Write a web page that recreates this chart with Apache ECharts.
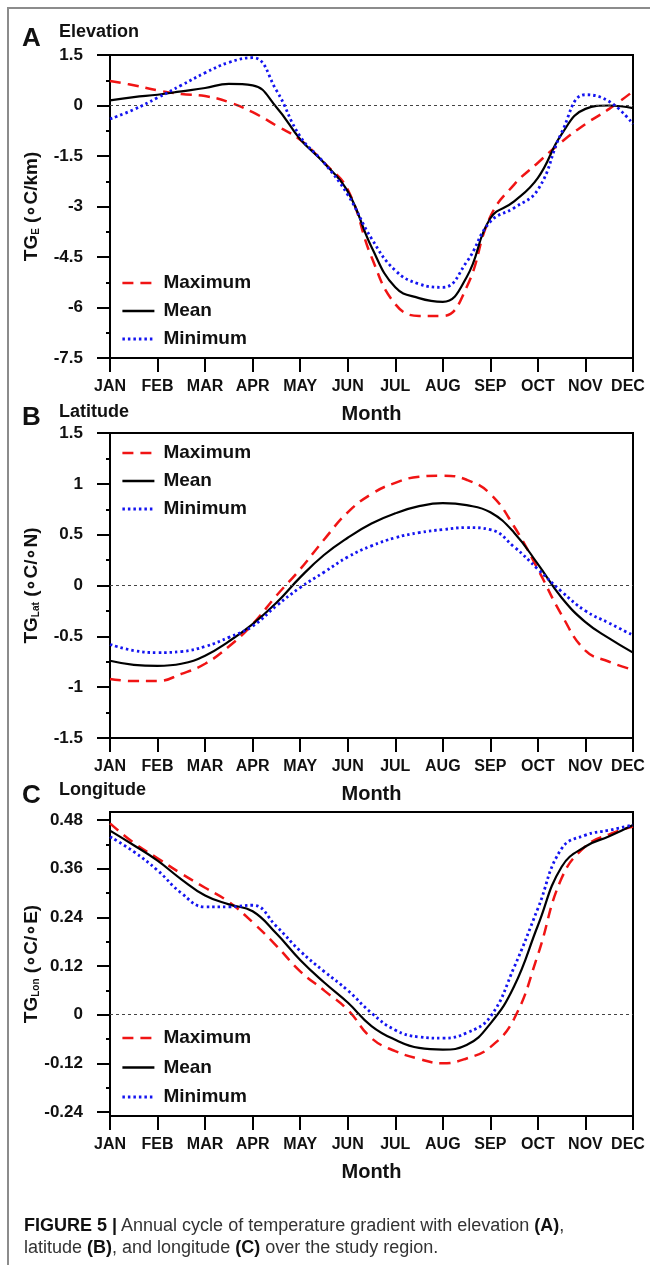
<!DOCTYPE html>
<html>
<head>
<meta charset="utf-8">
<script src="https://cdn.jsdelivr.net/npm/echarts@6/dist/echarts.min.js"></script>
<style>
  html, body { margin: 0; padding: 0; background: #fff; overflow: hidden; }
  #frame { position: absolute; left: 7px; top: 7px; width: 700px; height: 1300px;
    border-left: 2px solid #8c8c8c; border-top: 2px solid #8c8c8c; }
  #chart { position: absolute; left: 0; top: 0; width: 650px; height: 1265px; }
  #caption { position: absolute; left: 24px; top: 1214px; color: #333;
    font: 18px 'Liberation Sans', Arial, sans-serif; line-height: 22px; }
  #caption b { color: #111; }
</style>
</head>
<body>
<div id="frame"></div>
<div id="chart"></div>
<div id="caption"><b>FIGURE 5 |</b> Annual cycle of temperature gradient with elevation <b>(A)</b>,<br>latitude <b>(B)</b>, and longitude <b>(C)</b> over the study region.</div>
<script>
// month labels and sample positions (0 = JAN ... 11 = DEC)
const months = ['JAN', 'FEB', 'MAR', 'APR', 'MAY', 'JUN', 'JUL', 'AUG', 'SEP', 'OCT', 'NOV', 'DEC'];
const monthPos = [0, 0.5, 1, 1.5, 2, 2.5, 3, 3.5, 4, 4.5, 5, 5.5, 6, 6.5, 7, 7.5, 8, 8.5, 9, 9.5, 10, 10.5, 11];

// (A) elevation, degC/km
const elevMax = [0.73, 0.6, 0.45, 0.34, 0.28, 0.1, -0.2, -0.6, -1.02, -1.7, -2.5, -4.5, -5.9, -6.25, -6.25, -5.4, -3.3, -2.35, -1.7, -1.08, -0.55, -0.1, 0.42];
const elevMean = [0.15, 0.25, 0.32, 0.42, 0.52, 0.64, 0.6, -0.05, -1.0, -1.7, -2.55, -4.2, -5.4, -5.72, -5.83, -5.1, -3.35, -2.85, -2.15, -0.85, -0.1, 0.0, -0.08];
const elevMin = [-0.4, -0.12, 0.23, 0.6, 0.97, 1.28, 1.42, 0.45, -0.92, -1.7, -2.65, -3.95, -4.9, -5.3, -5.4, -4.65, -3.45, -3.04, -2.5, -0.8, 0.32, 0.12, -0.55];

// (B) latitude, degC/degN
const latMax = [-0.92, -0.94, -0.94, -0.87, -0.77, -0.6, -0.38, -0.1, 0.16, 0.45, 0.72, 0.9, 1.01, 1.07, 1.08, 1.04, 0.9, 0.58, 0.16, -0.29, -0.64, -0.75, -0.83];
const latMean = [-0.74, -0.78, -0.79, -0.77, -0.69, -0.55, -0.38, -0.17, 0.08, 0.3, 0.47, 0.61, 0.71, 0.78, 0.81, 0.79, 0.72, 0.52, 0.21, -0.12, -0.36, -0.52, -0.66];
const latMin = [-0.58, -0.64, -0.66, -0.65, -0.6, -0.51, -0.4, -0.2, -0.02, 0.13, 0.28, 0.39, 0.47, 0.52, 0.55, 0.57, 0.55, 0.38, 0.16, -0.06, -0.25, -0.37, -0.49];

// (C) longitude, degC/degE
const lonMax = [0.472, 0.424, 0.386, 0.348, 0.313, 0.278, 0.228, 0.17, 0.107, 0.06, 0.012, -0.058, -0.09, -0.109, -0.12, -0.108, -0.08, -0.01, 0.148, 0.337, 0.415, 0.445, 0.464];
const lonMean = [0.454, 0.418, 0.38, 0.334, 0.294, 0.272, 0.255, 0.2, 0.135, 0.08, 0.03, -0.028, -0.062, -0.082, -0.086, -0.075, -0.022, 0.07, 0.22, 0.365, 0.415, 0.44, 0.468];
const lonMin = [0.439, 0.402, 0.356, 0.3, 0.266, 0.266, 0.27, 0.218, 0.157, 0.107, 0.06, 0.004, -0.038, -0.055, -0.058, -0.045, -0.005, 0.117, 0.262, 0.41, 0.443, 0.455, 0.468];
const lonTicks = [-0.24, -0.12, 0, 0.12, 0.24, 0.36, 0.48];
const lonMinorTicks = [-0.18, -0.06, 0.06, 0.18, 0.3, 0.42];

const FONT = "'Liberation Sans', Arial, sans-serif";
const seriesNames = ['Maximum', 'Mean', 'Minimum'];
const lineStyles = {
  Maximum: {color: '#f01414', type: [11, 7], width: 2.5},
  Mean: {color: '#000', type: 'solid', width: 2.2},
  Minimum: {color: '#1414f0', type: [2.5, 3], width: 2.8}
};

const chart = echarts.init(document.getElementById('chart'));

const grids = [
  {left: 110, top: 55, width: 523, height: 303},
  {left: 110, top: 433, width: 523, height: 305},
  {left: 110, top: 812, width: 523, height: 304}
].map(g => Object.assign(g, {show: true, borderColor: '#000', borderWidth: 2}));

const xAxes = [0, 1, 2].map(i => ({
  type: 'value', gridIndex: i, min: 0, max: 11, interval: 1,
  axisLine: {onZero: false, lineStyle: {color: '#000', width: 2}},
  axisTick: {length: 14, lineStyle: {color: '#000', width: 2}},
  splitLine: {show: false},
  axisLabel: {
    margin: 21, color: '#111', fontSize: 16, fontWeight: 'bold', fontFamily: FONT,
    formatter: v => v === 11 ? '{d|DEC}' : months[v],
    rich: {d: {fontSize: 16, fontWeight: 'bold', fontFamily: FONT, color: '#111', padding: [0, 10, 0, 0]}}
  },
  name: 'Month', nameLocation: 'middle', nameGap: 46,
  nameTextStyle: {fontSize: 20, fontWeight: 'bold', fontFamily: FONT, color: '#111'}
}));

function yName(sub, unit) {
  return {
    name: '{b|TG}{s|' + sub + '}{b| (∘C/' + unit + ')}',
    nameLocation: 'middle', nameRotate: 90, nameGap: 69, nameMoveOverlap: false,
    nameTextStyle: {
      rich: {
        b: {fontSize: 19, fontWeight: 'bold', fontFamily: FONT, color: '#111'},
        s: {fontSize: 10, fontWeight: 'bold', fontFamily: FONT, color: '#111', verticalAlign: 'bottom', padding: [8, 0, 0, 0]}
      }
    }
  };
}

const yBase = {
  type: 'value',
  axisLine: {show: true, onZero: false, lineStyle: {color: '#000', width: 2}},
  axisTick: {show: true, length: 13, lineStyle: {color: '#000', width: 2}},
  splitLine: {show: false},
  axisLabel: {margin: 27, color: '#111', fontSize: 17, fontWeight: 'bold', fontFamily: FONT}
};

const yAxes = [
  Object.assign({}, yBase, yName('E', 'km'), {
    gridIndex: 0, min: -7.5, max: 1.5, interval: 1.5,
    minorTick: {show: true, splitNumber: 2, length: 4, lineStyle: {color: '#000', width: 2}}
  }),
  Object.assign({}, yBase, yName('Lat', '∘N'), {
    gridIndex: 1, min: -1.5, max: 1.5, interval: 0.5,
    minorTick: {show: true, splitNumber: 2, length: 4, lineStyle: {color: '#000', width: 2}}
  }),
  Object.assign({}, yBase, yName('Lon', '∘E'), {
    gridIndex: 2, min: -0.25, max: 0.5,
    axisTick: {show: true, length: 13, customValues: lonTicks, lineStyle: {color: '#000', width: 2}},
    axisLabel: Object.assign({}, yBase.axisLabel, {customValues: lonTicks})
  }),
  // minor ticks for panel C
  {
    type: 'value', gridIndex: 2, min: -0.25, max: 0.5, position: 'left',
    axisLine: {show: false},
    axisTick: {show: true, length: 4, customValues: lonMinorTicks, lineStyle: {color: '#000', width: 2}},
    axisLabel: {show: false}, splitLine: {show: false}
  }
];

function panelSeries(idx, arrays) {
  return seriesNames.map((name, k) => {
    const s = {
      name: name, type: 'line', xAxisIndex: idx, yAxisIndex: idx,
      data: monthPos.map((m, i) => [m, arrays[k][i]]),
      smooth: 0.45, symbol: 'none', showSymbol: false, z: 3 + k,
      lineStyle: lineStyles[name],
      itemStyle: {color: lineStyles[name].color}
    };
    if (name === 'Mean') {
      s.markLine = {
        silent: true, symbol: ['none', 'none'], label: {show: false},
        lineStyle: {color: '#444', type: [3, 3], width: 1},
        data: [{yAxis: 0}]
      };
    }
    return s;
  });
}

const legendTops = [268, 438, 1023];
const legends = legendTops.map((t, i) => ({
  orient: 'vertical', left: 116, top: t,
  data: seriesNames.map(n => ({name: n, lineStyle: {width: n === 'Mean' ? 2.6 : lineStyles[n].width, type: lineStyles[n].type, color: lineStyles[n].color}})),
  itemWidth: 32, itemHeight: 14, itemGap: i === 2 ? 9.5 : 8, selectedMode: false,
  itemStyle: {opacity: 0},
  textStyle: {fontSize: 19, fontWeight: 'bold', fontFamily: FONT, color: '#111', lineHeight: 20, padding: [0, 0, 0, 4]}
}));

const panelLabels = [
  {letter: 'A', sub: 'Elevation', y: 39, ys: 32.5},
  {letter: 'B', sub: 'Latitude', y: 418, ys: 412},
  {letter: 'C', sub: 'Longitude', y: 796, ys: 790}
];
const graphics = [];
panelLabels.forEach(p => {
  graphics.push({type: 'text', x: 22, y: p.y, style: {text: p.letter, fontSize: 26, fontWeight: 'bold', fontFamily: FONT, fill: '#111', verticalAlign: 'middle'}});
  graphics.push({type: 'text', x: 59, y: p.ys, style: {text: p.sub, fontSize: 18, fontWeight: 'bold', fontFamily: FONT, fill: '#111', verticalAlign: 'middle'}});
});

chart.setOption({
  animation: false,
  backgroundColor: 'transparent',
  grid: grids,
  xAxis: xAxes,
  yAxis: yAxes,
  legend: legends,
  graphic: graphics,
  series: [].concat(
    panelSeries(0, [elevMax, elevMean, elevMin]),
    panelSeries(1, [latMax, latMean, latMin]),
    panelSeries(2, [lonMax, lonMean, lonMin])
  )
});
</script>
</body>
</html>
